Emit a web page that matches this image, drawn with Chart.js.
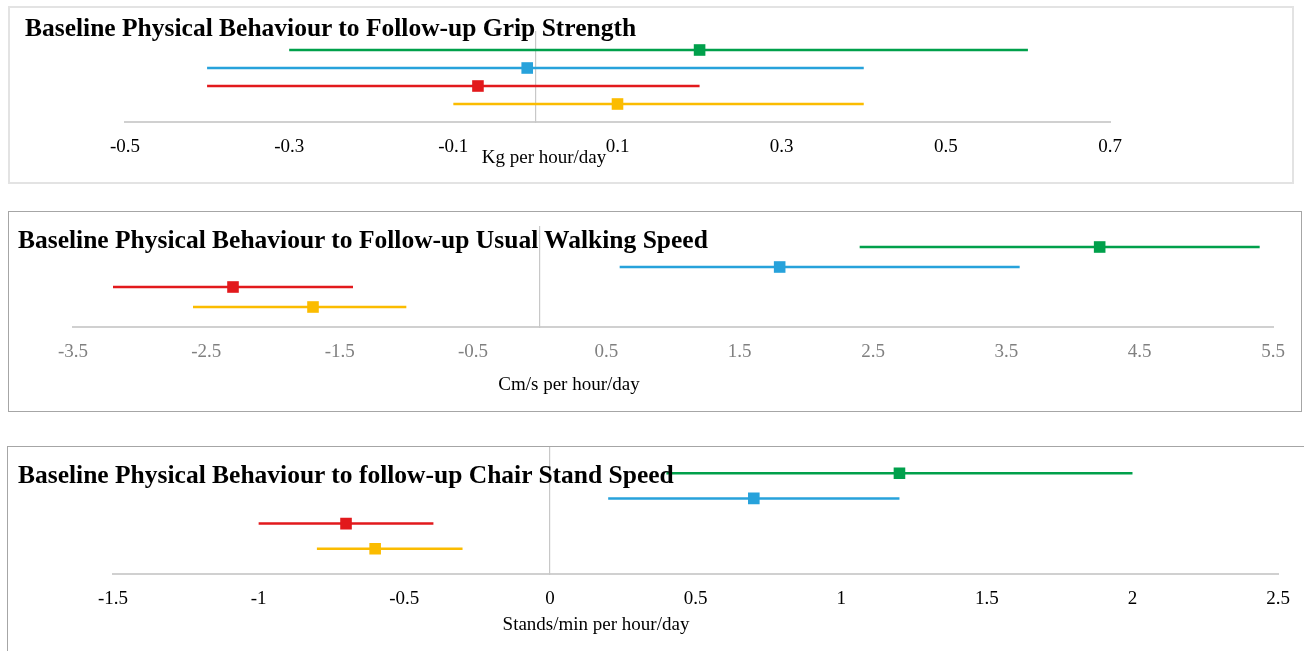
<!DOCTYPE html>
<html>
<head>
<meta charset="utf-8">
<script src="https://cdn.jsdelivr.net/npm/chart.js@4.4.0/dist/chart.umd.min.js"></script>
<style>
  body { margin: 0; width: 1304px; height: 651px; overflow: hidden; background: #fff; position: relative;
         font-family: "Liberation Serif", "Times New Roman", serif; }
  .box { position: absolute; box-sizing: border-box; }
  canvas { position: absolute; left: 0; z-index: 2; }
  .title { position: absolute; font-weight: bold; font-size: 25.5px; line-height: 1; white-space: nowrap; z-index: 3; color: #000; }
  .axis-title { position: absolute; font-size: 19px; line-height: 1; white-space: nowrap; transform: translateX(-50%); z-index: 3; color: #000; }
</style>
</head>
<body>

<div class="box" style="left:8px; top:6px; width:1286px; height:178px; border:2px solid #e3e3e3;"></div>
<div class="box" style="left:8px; top:211px; width:1294px; height:201px; border:1px solid #a6a6a6;"></div>
<div class="box" style="left:7px; top:446px; width:1310px; height:220px; border:1.5px solid #a6a6a6;"></div>

<canvas id="grip" width="1304" height="180" style="top:0px"></canvas>
<canvas id="walk" width="1304" height="200" style="top:200px"></canvas>
<canvas id="chair" width="1304" height="221" style="top:430px"></canvas>

<div class="title" style="left:25px; top:14.6px;">Baseline Physical Behaviour to Follow-up Grip Strength</div>
<div class="axis-title" style="left:544px; top:147.4px;">Kg per hour/day</div>

<div class="title" style="left:18px; top:226.9px;">Baseline Physical Behaviour to Follow-up Usual Walking Speed</div>
<div class="axis-title" style="left:569px; top:374px;">Cm/s per hour/day</div>

<div class="title" style="left:18px; top:461.9px;">Baseline Physical Behaviour to follow-up Chair Stand Speed</div>
<div class="axis-title" style="left:596px; top:614px;">Stands/min per hour/day</div>

<script>
// rows, top to bottom (one colour each)
const rows = ["Series 1", "Series 2", "Series 3", "Series 4"];
const rowPos = [4, 3, 2, 1];
const colors = ["#00A04B", "#27A2DB", "#E2191C", "#FBBC00"];

// grip strength (kg per hour/day)
const gripEst  = [0.2, -0.01, -0.07, 0.1];
const gripLow  = [-0.3, -0.4, -0.4, -0.1];
const gripHigh = [0.6, 0.4, 0.2, 0.4];
const gripTicks = [-0.5, -0.3, -0.1, 0.1, 0.3, 0.5, 0.7];

// usual walking speed (cm/s per hour/day)
const walkEst  = [4.2, 1.8, -2.3, -1.7];
const walkLow  = [2.4, 0.6, -3.2, -2.6];
const walkHigh = [5.4, 3.6, -1.4, -1.0];
const walkTicks = [-3.5, -2.5, -1.5, -0.5, 0.5, 1.5, 2.5, 3.5, 4.5, 5.5];

// chair stand speed (stands/min per hour/day)
const chairEst  = [1.2, 0.7, -0.7, -0.6];
const chairLow  = [0.4, 0.2, -1.0, -0.8];
const chairHigh = [2.0, 1.2, -0.4, -0.3];
const chairTicks = [-1.5, -1, -0.5, 0, 0.5, 1, 1.5, 2, 2.5];

const TICK_SIZE = 19;
const TICK_PAD = 14;

function forestDatasets(est, low, high) {
    return rows.map((name, i) => ({
        label: name,
        data: [
            { x: low[i], y: rowPos[i] },
            { x: est[i], y: rowPos[i] },
            { x: high[i], y: rowPos[i] }
        ],
        showLine: true,
        borderColor: colors[i],
        backgroundColor: colors[i],
        borderWidth: 2.5,
        pointStyle: "rect",
        pointRadius: [0, 8.2, 0],
        pointHoverRadius: [0, 8.2, 0],
        pointBorderWidth: 0
    }));
}

// axisY = pixel row of the x axis inside the canvas
function drawForest(id, est, low, high, ticks, min, max, tickColor, pad, axisY) {
    const canvas = document.getElementById(id);
    const axisH = 2 * TICK_PAD + TICK_SIZE * 1.2;

    new Chart(canvas, {
        type: "scatter",
        data: { datasets: forestDatasets(est, low, high) },
        options: {
            responsive: false,
            animation: false,
            layout: {
                padding: {
                    left: pad.left,
                    right: pad.right,
                    top: pad.top,
                    bottom: canvas.height - axisY - axisH
                }
            },
            plugins: {
                legend: { display: false },
                tooltip: { enabled: false },
                title: { display: false }
            },
            scales: {
                x: {
                    type: "linear",
                    min: min,
                    max: max,
                    afterBuildTicks: s => { s.ticks = ticks.map(v => ({ value: v })); },
                    grid: { display: false, drawTicks: false },
                    border: { display: true, color: "#d0d0d0", width: 2 },
                    ticks: {
                        autoSkip: false,
                        maxRotation: 0,
                        padding: TICK_PAD,
                        color: tickColor,
                        font: { family: "Liberation Serif", size: TICK_SIZE },
                        callback: v => String(v)
                    }
                },
                y: {
                    type: "linear",
                    min: 0,
                    max: 5,
                    position: { x: 0 },
                    grid: { display: false, drawTicks: false },
                    border: { display: true, color: "#c8c8c8", width: 1.2 },
                    ticks: { display: false }
                }
            }
        }
    });
}

drawForest("grip", gripEst, gripLow, gripHigh, gripTicks, -0.5, 0.7, "#000",
    { left: 125, right: 194, top: 32 }, 122);
drawForest("walk", walkEst, walkLow, walkHigh, walkTicks, -3.5, 5.5, "#808080",
    { left: 73, right: 31, top: 27 }, 127);
drawForest("chair", chairEst, chairLow, chairHigh, chairTicks, -1.5, 2.5, "#000",
    { left: 113, right: 25, top: 18 }, 144);
</script>
</body>
</html>
